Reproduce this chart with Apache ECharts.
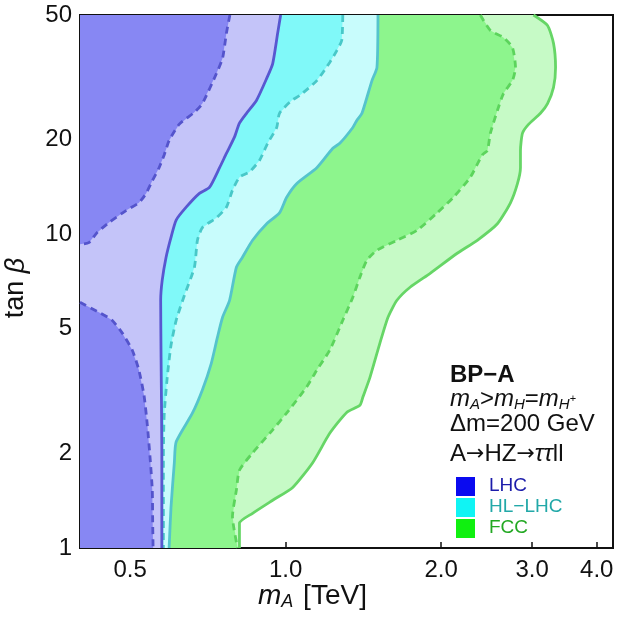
<!DOCTYPE html>
<html>
<head>
<meta charset="utf-8">
<script src="https://cdn.jsdelivr.net/npm/echarts@6/dist/echarts.min.js"></script>
<style>
  html, body { margin: 0; padding: 0; background: #fff; }
  #chart { width: 619px; height: 617px; }
</style>
</head>
<body>
<div id="chart"></div>
<script>
// exclusion contours, points are [mA (TeV), tan beta], read top -> bottom
const lhcDashedUpper = [
  [0.78, 50], [0.768, 43.7], [0.755, 36.4], [0.735, 32.6], [0.69, 26.1], [0.666, 24.5],
  [0.622, 22.4], [0.595, 19.9], [0.582, 17.9], [0.569, 16.3], [0.552, 14.8], [0.537, 13.5],
  [0.52, 12.6], [0.491, 11.9], [0.455, 10.9], [0.431, 10.1], [0.416, 9.4], [0.4, 9.3]
];
const lhcDashedLower = [
  [0.4, 6.07], [0.435, 5.64], [0.461, 5.33], [0.483, 4.84], [0.505, 4.27], [0.52, 3.69],
  [0.532, 3.07], [0.54, 2.46], [0.547, 1.91], [0.552, 1.53], [0.553, 1.2], [0.554, 1]
];
const lhcSolid = [
  [0.978, 50], [0.965, 43.7], [0.944, 35.0], [0.919, 31.4], [0.878, 26.7], [0.84, 24.3],
  [0.814, 22.6], [0.796, 20.4], [0.768, 18.1], [0.745, 16.3], [0.712, 14.1], [0.681, 13.5],
  [0.642, 12.2], [0.614, 11.1], [0.6, 9.78], [0.587, 8.45], [0.577, 7.14], [0.573, 6.16],
  [0.574, 4.06], [0.576, 2.05], [0.576, 1]
];
const hlDashed = [
  [1.29, 50], [1.284, 41.5], [1.256, 38.5], [1.217, 35.3], [1.149, 30.9], [1.065, 27.7],
  [1.027, 26.7], [0.973, 24.3], [0.961, 21.9], [0.923, 19.5], [0.89, 17.2], [0.851, 15.8],
  [0.814, 15.2], [0.789, 13.8], [0.768, 12.2], [0.735, 11.3], [0.69, 10.5], [0.675, 9.57],
  [0.666, 7.85], [0.637, 6.39], [0.614, 5.32], [0.6, 4.43], [0.59, 3.5], [0.582, 2.65],
  [0.58, 1.95], [0.58, 1]
];
const hlSolid = [
  [1.509, 50], [1.502, 34.0], [1.469, 30.9], [1.405, 24.3], [1.374, 23.1], [1.349, 21.9],
  [1.273, 19.5], [1.234, 18.8], [1.149, 16.3], [1.05, 14.5], [1.004, 13.1], [0.973, 11.7],
  [0.919, 10.8], [0.863, 9.57], [0.825, 8.45], [0.803, 7.85], [0.779, 6.16], [0.755, 5.44],
  [0.738, 4.7], [0.718, 3.88], [0.69, 3.19], [0.66, 2.69], [0.614, 2.18], [0.609, 1.87],
  [0.6, 1.35], [0.595, 1]
];
const fccDashed = [
  [2.381, 50], [2.49, 44.6], [2.639, 42.4], [2.747, 39.4], [2.785, 34.0], [2.747, 30.9],
  [2.639, 28.1], [2.569, 24.8], [2.49, 21.0], [2.457, 18.5], [2.402, 17.9], [2.277, 15.2],
  [2.11, 13.1], [1.964, 11.7], [1.796, 10.3], [1.642, 9.57], [1.502, 8.89], [1.436, 8.27],
  [1.392, 7.3], [1.349, 6.3], [1.29, 5.32], [1.217, 4.27], [1.149, 3.69], [1.098, 3.26],
  [1.004, 2.69], [0.944, 2.38], [0.863, 2.01], [0.814, 1.77], [0.803, 1.53], [0.789, 1.26],
  [0.807, 1]
];
const fccSolid = [
  [3.017, 50], [3.212, 46.3], [3.299, 40.6], [3.329, 34.0], [3.299, 29.4], [3.212, 26.1],
  [3.112, 24.3], [2.951, 22.4], [2.873, 21.0], [2.847, 18.5], [2.847, 16.3], [2.809, 14.5],
  [2.723, 12.6], [2.569, 10.8], [2.349, 9.57], [2.148, 8.7], [1.904, 7.51], [1.741, 6.78],
  [1.642, 6.16], [1.578, 5.44], [1.522, 4.5], [1.456, 3.5], [1.411, 3.03], [1.392, 2.85],
  [1.314, 2.71], [1.217, 2.32], [1.128, 1.87], [1.032, 1.56], [0.944, 1.42], [0.863, 1.29],
  [0.814, 1.2], [0.814, 1]
];

const xTicks = [0.5, 1.0, 2.0, 3.0, 4.0];
const yTicks = [1, 2, 5, 10, 20, 50];
const xRange = [0.4, 4.3];
const yRange = [1, 50];

const legendNames = ['LHC', 'HL\u2212LHC', 'FCC'];
const legendColors = ['#0a0af0', '#10f4f4', '#10f010'];
const legendTextColors = ['#1c1caa', '#22a8a8', '#22a822'];

// fill regions, back to front
const regions = [
  { curve: fccSolid, fill: '#c6fac6' },
  { curve: fccDashed, fill: '#8df58d' },
  { curve: hlSolid, fill: '#c8fcfc' },
  { curve: hlDashed, fill: '#80f9f9' },
  { curve: lhcSolid, fill: '#c4c4f9' },
  { curve: lhcDashedUpper, fill: '#8787f3' },
  { curve: lhcDashedLower, fill: '#8787f3' }
];
const borders = [
  { curve: fccSolid, color: '#66d666', dashed: false },
  { curve: fccDashed, color: '#5cd45c', dashed: true },
  { curve: hlSolid, color: '#55c4cc', dashed: false },
  { curve: hlDashed, color: '#48c8c8', dashed: true },
  { curve: lhcSolid, color: '#5858d0', dashed: false },
  { curve: lhcDashedUpper, color: '#5454cc', dashed: true },
  { curve: lhcDashedLower, color: '#5454cc', dashed: true }
];

function closeRegion(curve) {
  const pts = curve.slice();
  const first = curve[0], last = curve[curve.length - 1];
  if (last[1] === yRange[0]) pts.push([xRange[0], yRange[0]]);
  if (first[1] === yRange[1]) pts.push([xRange[0], yRange[1]]);
  return pts;
}

const series = [];
regions.forEach(r => {
  const pts = closeRegion(r.curve);
  series.push({
    type: 'custom',
    silent: true,
    clip: true,
    data: pts,
    renderItem: (params, api) => {
      if (params.dataIndex !== 0) return null;
      return {
        type: 'polygon',
        shape: { points: pts.map(p => api.coord(p)) },
        style: { fill: r.fill, stroke: null }
      };
    }
  });
});
borders.forEach(b => {
  series.push({
    type: 'line',
    silent: true,
    data: b.curve,
    showSymbol: false,
    symbol: 'none',
    smooth: 0.2,
    lineStyle: {
      color: b.color,
      width: 2.8,
      type: b.dashed ? [7, 5] : 'solid'
    },
    z: 3
  });
});

const font = 'Liberation Sans';
const arrow = { fontSize: 22, fontFamily: 'DejaVu Sans', fill: '#111' };

const chart = echarts.init(document.getElementById('chart'));
chart.setOption({
  animation: false,
  grid: {
    left: 80, top: 15, width: 533, height: 533,
    show: true, borderColor: '#111', borderWidth: 2, backgroundColor: 'transparent',
    containLabel: false
  },
  xAxis: {
    type: 'log',
    logBase: 10,
    min: xRange[0],
    max: xRange[1],
    axisLine: { lineStyle: { color: '#111', width: 2 } },
    splitLine: { show: false },
    minorTick: { show: false },
    axisTick: { inside: true, length: 6, lineStyle: { color: '#111', width: 1.5 }, customValues: xTicks },
    axisLabel: {
      customValues: xTicks,
      margin: 10,
      fontSize: 24,
      color: '#111',
      fontFamily: font,
      formatter: v => Number(v).toFixed(1)
    }
  },
  yAxis: {
    type: 'log',
    logBase: 10,
    min: yRange[0],
    max: yRange[1],
    axisLine: { lineStyle: { color: '#111', width: 2 } },
    splitLine: { show: false },
    minorTick: { show: false },
    axisTick: { inside: true, length: 6, lineStyle: { color: '#111', width: 1.5 }, customValues: yTicks },
    axisLabel: {
      customValues: yTicks,
      margin: 8,
      fontSize: 24,
      color: '#111',
      fontFamily: font,
      formatter: v => String(Math.round(v))
    }
  },
  series: series,
  graphic: [
    {
      type: 'text', left: 258, top: 582,
      style: {
        text: '{i|m}{s|A} [TeV]',
        fill: '#111',
        font: '28px ' + font,
        rich: {
          i: { fontSize: 28, fontStyle: 'italic', fontFamily: font, fill: '#111', lineHeight: 30 },
          s: { fontSize: 18, fontStyle: 'italic', fontFamily: font, fill: '#111', verticalAlign: 'bottom', lineHeight: 18, padding: [8, 2, 0, 0] }
        }
      }
    },
    {
      type: 'text', x: 16, y: 288, rotation: Math.PI / 2,
      style: {
        text: 'tan {i|\u03b2}',
        fill: '#111',
        font: '27px ' + font,
        align: 'center', verticalAlign: 'middle',
        rich: { i: { fontSize: 27, fontStyle: 'italic', fontFamily: font, fill: '#111' } }
      }
    },
    {
      type: 'text', left: 450, top: 363,
      style: { text: 'BP\u2212A', fill: '#111', font: 'bold 24px ' + font }
    },
    {
      type: 'text', left: 450, top: 387,
      style: {
        text: '{i|m}{s|A}{n|>}{i|m}{s|H}{n|=}{i|m}{s|H}{p|+}',
        fill: '#111',
        rich: {
          i: { fontSize: 24, fontStyle: 'italic', fontFamily: font, fill: '#111', lineHeight: 26 },
          n: { fontSize: 24, fontFamily: font, fill: '#111', lineHeight: 26 },
          s: { fontSize: 15, fontStyle: 'italic', fontFamily: font, fill: '#111', verticalAlign: 'bottom', lineHeight: 15, padding: [7, 0, 0, 0] },
          p: { fontSize: 11, fontFamily: font, fill: '#111', lineHeight: 11 }
        }
      }
    },
    {
      type: 'text', left: 450, top: 412,
      style: { text: '\u0394m=200 GeV', fill: '#111', font: '24px ' + font }
    },
    {
      type: 'text', left: 450, top: 442,
      style: {
        text: 'A{a|\u2192}HZ{a|\u2192}{i|\u03c4\u03c4}ll',
        fill: '#111',
        font: '24px ' + font,
        rich: {
          i: { fontSize: 24, fontStyle: 'italic', fontFamily: font, fill: '#111' },
          a: arrow
        }
      }
    }
  ].concat(legendNames.flatMap((name, i) => [
    {
      type: 'rect', left: 456, top: 477 + i * 21,
      shape: { width: 19, height: 19 },
      style: { fill: legendColors[i] }
    },
    {
      type: 'text', left: 489, top: 476 + i * 21,
      style: { text: name, fill: legendTextColors[i], font: '19px ' + font }
    }
  ]))
});
</script>
</body>
</html>
